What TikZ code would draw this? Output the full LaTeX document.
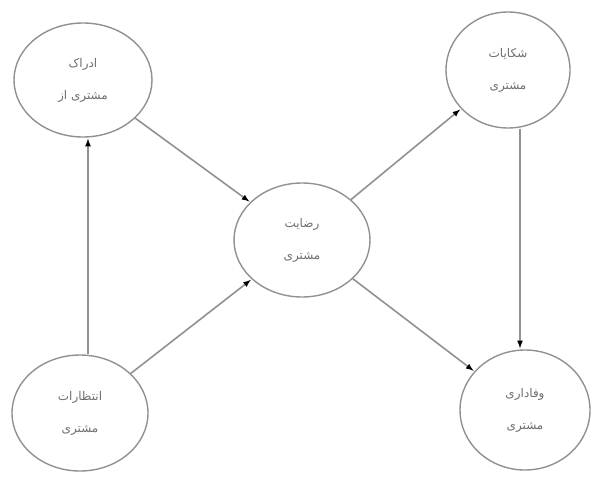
\documentclass[tikz,border=0pt]{standalone}
\usepackage{fontspec}
\usepackage{xcolor}
\usetikzlibrary{positioning,shapes,arrows}
\TeXXeTstate=1
\newfontfamily\persianfont[Script=Arabic]{DejaVu Sans}
\newcommand{\fa}[1]{{\persianfont\beginR #1\endR}}
\definecolor{linegray}{RGB}{145,145,145}
\definecolor{textgray}{RGB}{110,110,110}

\begin{document}
\begin{tikzpicture}[x=1pt, y=-1pt,
          every node/.style = {shape=ellipse, draw=linegray, line width=1.4pt,
            align=center, text=textgray, font=\large},
          link/.style = {draw=linegray, line width=1.6pt,
            -{latex[black]}, shorten >=1pt}]
          \useasboundingbox (0,0) rectangle (593,476);
          \node[minimum width=138pt, minimum height=114pt] (percept) at (83,80)
            {\fa{ادراک}\\[18pt]\fa{مشتری از}};
          \node[minimum width=124pt, minimum height=116pt] (complaint) at (508,70)
            {\fa{شکایات}\\[18pt]\fa{مشتری}};
          \node[minimum width=136pt, minimum height=114pt] (satisfy) at (302,240)
            {\fa{رضایت}\\[18pt]\fa{مشتری}};
          \node[minimum width=136pt, minimum height=116pt] (expect) at (80,413)
            {\fa{انتظارات}\\[18pt]\fa{مشتری}};
          \node[minimum width=130pt, minimum height=120pt] (loyal) at (525,410)
            {\fa{وفاداری}\\[18pt]\fa{مشتری}};
          % connectors
          \draw[link] (expect.north -| 88,0) -- (percept.south -| 88,0);
          \draw[link] (percept) -- (satisfy);
          \draw[link] (expect) -- (satisfy);
          \draw[link] (satisfy) -- (complaint);
          \draw[link] (satisfy) -- (loyal);
          \draw[link] (complaint.south -| 520,0) -- (loyal.north -| 520,0);
\end{tikzpicture}
\end{document}
